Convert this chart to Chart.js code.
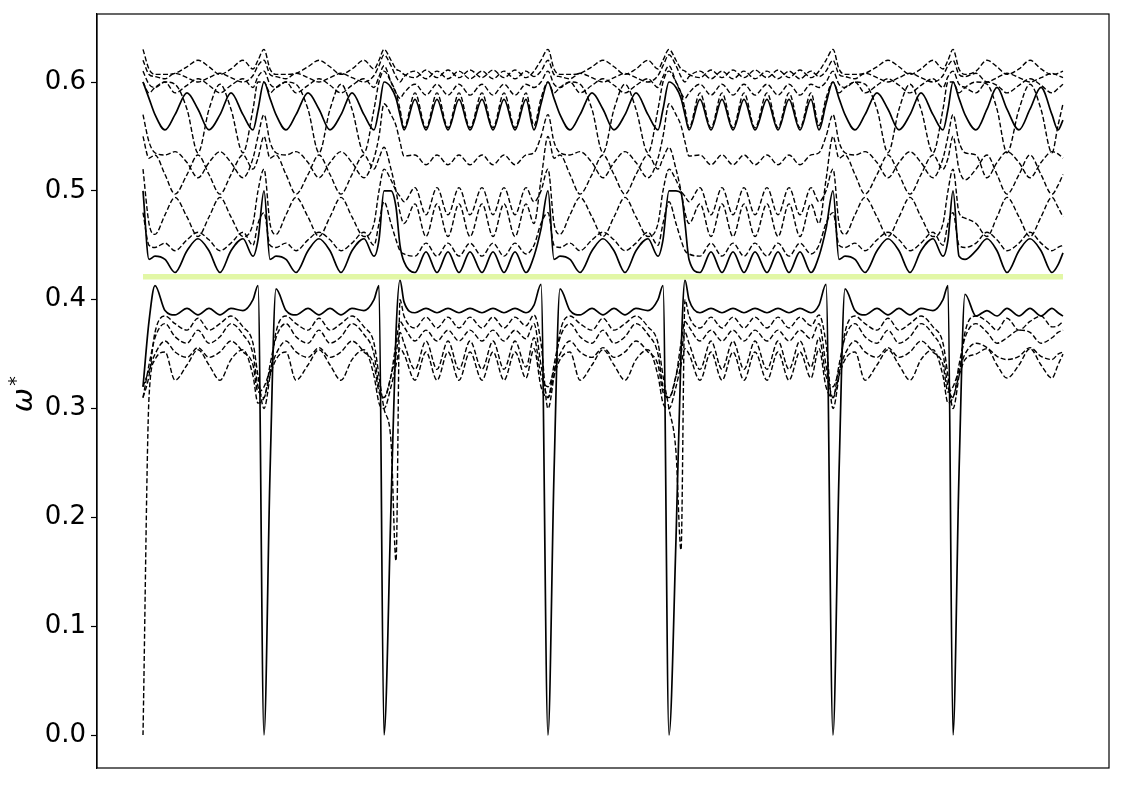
<!DOCTYPE html>
<html><head><meta charset="utf-8">
<script src="https://cdn.jsdelivr.net/npm/chart.js@4.4.1/dist/chart.umd.min.js"></script>
<style>html,body{margin:0;padding:0;background:#fff;}canvas{display:block;}</style>
</head><body>
<canvas id="c" width="1125" height="785"></canvas>
<script>
// k-path coordinate (arbitrary path length units), segments A..G
const kx = [0, 6, 12, 22, 32, 44, 55, 66, 77, 88, 100, 110, 115,
 121, 127, 133, 143, 153, 165, 176, 187, 198, 209, 221, 231, 236,
 241, 248, 253, 257, 261, 272, 283, 294, 305, 316, 327, 339, 350, 361, 372, 383, 391, 398,
 405, 411, 417, 427, 437, 449, 460, 471, 482, 493, 505, 515, 520,
 526, 533, 538, 542, 546, 557, 568, 579, 590, 601, 612, 624, 635, 646, 657, 668, 676, 683,
 690, 696, 702, 712, 722, 734, 745, 756, 767, 778, 790, 800, 805,
 810, 816, 822, 833, 844, 854, 864, 876, 887, 898, 909, 915, 920];

const yTicks = [0.0, 0.1, 0.2, 0.3, 0.4, 0.5, 0.6];
const gapLevel = 0.421;

// lower bands
const bandL1 = [0.32, 0.38, 0.413, 0.39, 0.386, 0.392, 0.386, 0.392, 0.386, 0.392, 0.39, 0.40, 0.413,
 0.00, 0.24, 0.41, 0.39, 0.386, 0.392, 0.386, 0.392, 0.386, 0.392, 0.39, 0.40, 0.413,
 0.00, 0.21, 0.37, 0.418, 0.398, 0.388, 0.392, 0.388, 0.392, 0.388, 0.392, 0.388, 0.392, 0.388, 0.392, 0.388, 0.395, 0.414,
 0.00, 0.24, 0.41, 0.39, 0.386, 0.392, 0.386, 0.392, 0.386, 0.392, 0.39, 0.40, 0.413,
 0.00, 0.18, 0.35, 0.418, 0.40, 0.388, 0.392, 0.388, 0.392, 0.388, 0.392, 0.388, 0.392, 0.388, 0.392, 0.388, 0.395, 0.414,
 0.00, 0.24, 0.41, 0.39, 0.386, 0.392, 0.386, 0.392, 0.386, 0.392, 0.39, 0.40, 0.413,
 0.00, 0.24, 0.405, 0.385, 0.39, 0.385, 0.392, 0.385, 0.392, 0.385, 0.392, 0.388, 0.385];

const bandL2 = [0.31, 0.33, 0.37, 0.385, 0.378, 0.372, 0.383, 0.372, 0.378, 0.385, 0.375, 0.36, 0.33,
 0.30, 0.33, 0.37, 0.385, 0.378, 0.372, 0.383, 0.372, 0.378, 0.385, 0.375, 0.36, 0.33,
 0.30, 0.27, 0.16, 0.40, 0.385, 0.374, 0.384, 0.374, 0.384, 0.374, 0.384, 0.374, 0.384, 0.374, 0.384, 0.376, 0.386, 0.36,
 0.30, 0.33, 0.37, 0.385, 0.378, 0.372, 0.383, 0.372, 0.378, 0.385, 0.375, 0.36, 0.33,
 0.30, 0.26, 0.17, 0.40, 0.385, 0.374, 0.384, 0.374, 0.384, 0.374, 0.384, 0.374, 0.384, 0.374, 0.384, 0.376, 0.386, 0.36,
 0.30, 0.33, 0.37, 0.385, 0.378, 0.372, 0.383, 0.372, 0.378, 0.385, 0.375, 0.36, 0.33,
 0.30, 0.33, 0.37, 0.385, 0.38, 0.372, 0.383, 0.372, 0.38, 0.385, 0.375, 0.376, 0.38];

const bandL3 = [0.31, 0.34, 0.365, 0.378, 0.366, 0.36, 0.372, 0.36, 0.366, 0.378, 0.368, 0.35, 0.32,
 0.31, 0.34, 0.365, 0.378, 0.366, 0.36, 0.372, 0.36, 0.366, 0.378, 0.368, 0.35, 0.32,
 0.31, 0.33, 0.36, 0.38, 0.375, 0.362, 0.372, 0.362, 0.372, 0.362, 0.372, 0.362, 0.372, 0.362, 0.372, 0.364, 0.378, 0.34,
 0.31, 0.34, 0.365, 0.378, 0.366, 0.36, 0.372, 0.36, 0.366, 0.378, 0.368, 0.35, 0.32,
 0.31, 0.33, 0.36, 0.38, 0.375, 0.362, 0.372, 0.362, 0.372, 0.362, 0.372, 0.362, 0.372, 0.362, 0.372, 0.364, 0.378, 0.34,
 0.31, 0.34, 0.365, 0.378, 0.366, 0.36, 0.372, 0.36, 0.366, 0.378, 0.368, 0.35, 0.32,
 0.31, 0.34, 0.365, 0.378, 0.37, 0.36, 0.365, 0.372, 0.37, 0.36, 0.365, 0.37, 0.372];

const bandL4 = [0.32, 0.335, 0.35, 0.362, 0.352, 0.347, 0.356, 0.347, 0.352, 0.362, 0.352, 0.34, 0.315,
 0.32, 0.335, 0.35, 0.362, 0.352, 0.347, 0.356, 0.347, 0.352, 0.362, 0.352, 0.34, 0.315,
 0.31, 0.33, 0.35, 0.37, 0.36, 0.336, 0.362, 0.336, 0.362, 0.336, 0.362, 0.336, 0.362, 0.336, 0.362, 0.338, 0.365, 0.33,
 0.32, 0.335, 0.35, 0.362, 0.352, 0.347, 0.356, 0.347, 0.352, 0.362, 0.352, 0.34, 0.315,
 0.31, 0.33, 0.35, 0.37, 0.36, 0.336, 0.362, 0.336, 0.362, 0.336, 0.362, 0.336, 0.362, 0.336, 0.362, 0.338, 0.365, 0.33,
 0.32, 0.335, 0.35, 0.362, 0.352, 0.347, 0.356, 0.347, 0.352, 0.362, 0.352, 0.34, 0.315,
 0.32, 0.335, 0.35, 0.36, 0.356, 0.348, 0.345, 0.348, 0.356, 0.348, 0.345, 0.35, 0.352];

const bandL5 = [0.00, 0.31, 0.345, 0.352, 0.326, 0.34, 0.354, 0.34, 0.326, 0.345, 0.354, 0.33, 0.305,
 0.31, 0.33, 0.345, 0.352, 0.326, 0.34, 0.354, 0.34, 0.326, 0.345, 0.354, 0.33, 0.305,
 0.30, 0.32, 0.34, 0.355, 0.35, 0.326, 0.352, 0.326, 0.352, 0.326, 0.352, 0.326, 0.352, 0.326, 0.352, 0.328, 0.355, 0.32,
 0.31, 0.33, 0.345, 0.352, 0.326, 0.34, 0.354, 0.34, 0.326, 0.345, 0.354, 0.33, 0.305,
 0.30, 0.32, 0.34, 0.355, 0.35, 0.326, 0.352, 0.326, 0.352, 0.326, 0.352, 0.326, 0.352, 0.326, 0.352, 0.328, 0.355, 0.32,
 0.31, 0.33, 0.345, 0.352, 0.326, 0.34, 0.354, 0.34, 0.326, 0.345, 0.354, 0.33, 0.305,
 0.31, 0.33, 0.345, 0.35, 0.355, 0.34, 0.328, 0.34, 0.355, 0.34, 0.328, 0.34, 0.35];

// upper bands
const bandU1 = [0.500, 0.437, 0.440, 0.437, 0.425, 0.445, 0.456, 0.445, 0.425, 0.445, 0.456, 0.440, 0.455,
 0.500, 0.437, 0.440, 0.437, 0.425, 0.445, 0.456, 0.445, 0.425, 0.445, 0.456, 0.440, 0.455,
 0.500, 0.500, 0.485, 0.450, 0.435, 0.425, 0.444, 0.425, 0.444, 0.425, 0.444, 0.425, 0.444, 0.425, 0.444, 0.425, 0.440, 0.465,
 0.500, 0.437, 0.440, 0.437, 0.425, 0.445, 0.456, 0.445, 0.425, 0.445, 0.456, 0.440, 0.455,
 0.500, 0.500, 0.498, 0.470, 0.437, 0.425, 0.444, 0.425, 0.444, 0.425, 0.444, 0.425, 0.444, 0.425, 0.444, 0.425, 0.440, 0.465,
 0.500, 0.437, 0.440, 0.437, 0.425, 0.445, 0.456, 0.445, 0.425, 0.445, 0.456, 0.440, 0.455,
 0.500, 0.440, 0.437, 0.445, 0.456, 0.445, 0.425, 0.445, 0.456, 0.445, 0.425, 0.432, 0.443];

const bandU2 = [0.480, 0.450, 0.448, 0.452, 0.445, 0.455, 0.462, 0.455, 0.445, 0.452, 0.462, 0.450, 0.470,
 0.480, 0.450, 0.448, 0.452, 0.445, 0.455, 0.462, 0.455, 0.445, 0.452, 0.462, 0.450, 0.470,
 0.490, 0.470, 0.455, 0.445, 0.442, 0.440, 0.452, 0.440, 0.452, 0.440, 0.452, 0.440, 0.452, 0.440, 0.452, 0.442, 0.450, 0.470,
 0.480, 0.450, 0.448, 0.452, 0.445, 0.455, 0.462, 0.455, 0.445, 0.452, 0.462, 0.450, 0.470,
 0.490, 0.470, 0.455, 0.445, 0.442, 0.440, 0.452, 0.440, 0.452, 0.440, 0.452, 0.440, 0.452, 0.440, 0.452, 0.442, 0.450, 0.470,
 0.480, 0.450, 0.448, 0.452, 0.445, 0.455, 0.462, 0.455, 0.445, 0.452, 0.462, 0.450, 0.470,
 0.480, 0.450, 0.448, 0.452, 0.462, 0.455, 0.445, 0.452, 0.462, 0.452, 0.445, 0.448, 0.450];

const bandU3 = [0.520, 0.470, 0.460, 0.478, 0.494, 0.476, 0.458, 0.476, 0.494, 0.476, 0.458, 0.470, 0.500,
 0.520, 0.470, 0.460, 0.478, 0.494, 0.476, 0.458, 0.476, 0.494, 0.476, 0.458, 0.470, 0.500,
 0.520, 0.510, 0.500, 0.495, 0.490, 0.503, 0.478, 0.503, 0.478, 0.503, 0.478, 0.503, 0.478, 0.503, 0.478, 0.503, 0.490, 0.500,
 0.520, 0.470, 0.460, 0.478, 0.494, 0.476, 0.458, 0.476, 0.494, 0.476, 0.458, 0.470, 0.500,
 0.520, 0.510, 0.500, 0.495, 0.490, 0.503, 0.478, 0.503, 0.478, 0.503, 0.478, 0.503, 0.478, 0.503, 0.478, 0.503, 0.490, 0.500,
 0.520, 0.470, 0.460, 0.478, 0.494, 0.476, 0.458, 0.476, 0.494, 0.476, 0.458, 0.470, 0.500,
 0.520, 0.480, 0.475, 0.470, 0.458, 0.476, 0.494, 0.476, 0.458, 0.476, 0.494, 0.485, 0.476];

const bandU4 = [0.550, 0.530, 0.533, 0.515, 0.497, 0.515, 0.533, 0.515, 0.497, 0.515, 0.533, 0.520, 0.530,
 0.550, 0.530, 0.533, 0.515, 0.497, 0.515, 0.533, 0.515, 0.497, 0.515, 0.533, 0.520, 0.530,
 0.540, 0.520, 0.500, 0.480, 0.470, 0.488, 0.458, 0.488, 0.458, 0.488, 0.458, 0.488, 0.458, 0.488, 0.458, 0.488, 0.470, 0.510,
 0.550, 0.530, 0.533, 0.515, 0.497, 0.515, 0.533, 0.515, 0.497, 0.515, 0.533, 0.520, 0.530,
 0.540, 0.520, 0.500, 0.480, 0.470, 0.488, 0.458, 0.488, 0.458, 0.488, 0.458, 0.488, 0.458, 0.488, 0.458, 0.488, 0.470, 0.510,
 0.550, 0.530, 0.533, 0.515, 0.497, 0.515, 0.533, 0.515, 0.497, 0.515, 0.533, 0.520, 0.530,
 0.550, 0.520, 0.510, 0.520, 0.533, 0.515, 0.497, 0.515, 0.533, 0.515, 0.497, 0.505, 0.515];

const bandU5 = [0.570, 0.545, 0.535, 0.533, 0.536, 0.526, 0.512, 0.526, 0.536, 0.526, 0.512, 0.530, 0.550,
 0.570, 0.545, 0.535, 0.533, 0.536, 0.526, 0.512, 0.526, 0.536, 0.526, 0.512, 0.530, 0.550,
 0.580, 0.570, 0.560, 0.545, 0.532, 0.533, 0.524, 0.533, 0.524, 0.533, 0.524, 0.533, 0.524, 0.533, 0.524, 0.533, 0.535, 0.550,
 0.570, 0.545, 0.535, 0.533, 0.536, 0.526, 0.512, 0.526, 0.536, 0.526, 0.512, 0.530, 0.550,
 0.580, 0.570, 0.560, 0.545, 0.532, 0.533, 0.524, 0.533, 0.524, 0.533, 0.524, 0.533, 0.524, 0.533, 0.524, 0.533, 0.535, 0.550,
 0.570, 0.545, 0.535, 0.533, 0.536, 0.526, 0.512, 0.526, 0.536, 0.526, 0.512, 0.530, 0.550,
 0.570, 0.545, 0.535, 0.533, 0.512, 0.526, 0.536, 0.526, 0.512, 0.526, 0.536, 0.534, 0.530];

const bandU6 = [0.600, 0.585, 0.570, 0.556, 0.570, 0.590, 0.575, 0.556, 0.570, 0.590, 0.570, 0.556, 0.575,
 0.600, 0.585, 0.570, 0.556, 0.570, 0.590, 0.575, 0.556, 0.570, 0.590, 0.570, 0.556, 0.575,
 0.600, 0.595, 0.585, 0.570, 0.556, 0.584, 0.556, 0.584, 0.556, 0.584, 0.556, 0.584, 0.556, 0.584, 0.556, 0.584, 0.556, 0.580,
 0.600, 0.585, 0.570, 0.556, 0.570, 0.590, 0.575, 0.556, 0.570, 0.590, 0.570, 0.556, 0.575,
 0.600, 0.595, 0.585, 0.570, 0.556, 0.584, 0.556, 0.584, 0.556, 0.584, 0.556, 0.584, 0.556, 0.584, 0.556, 0.584, 0.556, 0.580,
 0.600, 0.585, 0.570, 0.556, 0.570, 0.590, 0.575, 0.556, 0.570, 0.590, 0.570, 0.556, 0.575,
 0.600, 0.585, 0.570, 0.556, 0.575, 0.595, 0.575, 0.556, 0.575, 0.595, 0.570, 0.556, 0.565];

const bandU6b = [0.600, 0.590, 0.595, 0.600, 0.598, 0.575, 0.535, 0.575, 0.598, 0.575, 0.535, 0.575, 0.600,
 0.600, 0.590, 0.595, 0.600, 0.598, 0.575, 0.535, 0.575, 0.598, 0.575, 0.535, 0.575, 0.600,
 0.610, 0.600, 0.590, 0.575, 0.558, 0.590, 0.558, 0.590, 0.558, 0.590, 0.558, 0.590, 0.558, 0.590, 0.558, 0.590, 0.560, 0.585,
 0.600, 0.590, 0.595, 0.600, 0.598, 0.575, 0.535, 0.575, 0.598, 0.575, 0.535, 0.575, 0.600,
 0.610, 0.600, 0.590, 0.575, 0.558, 0.590, 0.558, 0.590, 0.558, 0.590, 0.558, 0.590, 0.558, 0.590, 0.558, 0.590, 0.560, 0.585,
 0.600, 0.590, 0.595, 0.600, 0.598, 0.575, 0.535, 0.575, 0.598, 0.575, 0.535, 0.575, 0.600,
 0.600, 0.590, 0.595, 0.600, 0.598, 0.575, 0.535, 0.575, 0.598, 0.575, 0.535, 0.560, 0.580];

const bandU7 = [0.610, 0.598, 0.595, 0.600, 0.590, 0.597, 0.603, 0.597, 0.590, 0.597, 0.603, 0.595, 0.605,
 0.610, 0.598, 0.595, 0.600, 0.590, 0.597, 0.603, 0.597, 0.590, 0.597, 0.603, 0.595, 0.605,
 0.615, 0.600, 0.590, 0.585, 0.590, 0.598, 0.588, 0.598, 0.588, 0.598, 0.588, 0.598, 0.588, 0.598, 0.588, 0.598, 0.595, 0.600,
 0.610, 0.598, 0.595, 0.600, 0.590, 0.597, 0.603, 0.597, 0.590, 0.597, 0.603, 0.595, 0.605,
 0.615, 0.600, 0.590, 0.585, 0.590, 0.598, 0.588, 0.598, 0.588, 0.598, 0.588, 0.598, 0.588, 0.598, 0.588, 0.598, 0.595, 0.600,
 0.610, 0.598, 0.595, 0.600, 0.590, 0.597, 0.603, 0.597, 0.590, 0.597, 0.603, 0.595, 0.605,
 0.610, 0.598, 0.595, 0.590, 0.600, 0.597, 0.590, 0.597, 0.603, 0.597, 0.590, 0.594, 0.598];

const bandU8 = [0.620, 0.607, 0.605, 0.603, 0.608, 0.604, 0.600, 0.604, 0.608, 0.604, 0.600, 0.606, 0.615,
 0.620, 0.607, 0.605, 0.603, 0.608, 0.604, 0.600, 0.604, 0.608, 0.604, 0.600, 0.606, 0.615,
 0.625, 0.615, 0.605, 0.600, 0.605, 0.610, 0.603, 0.610, 0.603, 0.610, 0.603, 0.610, 0.603, 0.610, 0.603, 0.610, 0.605, 0.610,
 0.620, 0.607, 0.605, 0.603, 0.608, 0.604, 0.600, 0.604, 0.608, 0.604, 0.600, 0.606, 0.615,
 0.625, 0.615, 0.605, 0.600, 0.605, 0.610, 0.603, 0.610, 0.603, 0.610, 0.603, 0.610, 0.603, 0.610, 0.603, 0.610, 0.605, 0.610,
 0.620, 0.607, 0.605, 0.603, 0.608, 0.604, 0.600, 0.604, 0.608, 0.604, 0.600, 0.606, 0.615,
 0.620, 0.607, 0.605, 0.608, 0.600, 0.604, 0.608, 0.604, 0.600, 0.604, 0.608, 0.606, 0.604];

const bandU9 = [0.630, 0.612, 0.607, 0.607, 0.608, 0.614, 0.620, 0.614, 0.607, 0.612, 0.620, 0.612, 0.620,
 0.630, 0.612, 0.607, 0.607, 0.608, 0.614, 0.620, 0.614, 0.607, 0.612, 0.620, 0.612, 0.620,
 0.630, 0.620, 0.612, 0.610, 0.607, 0.604, 0.611, 0.604, 0.611, 0.604, 0.611, 0.604, 0.611, 0.604, 0.611, 0.604, 0.610, 0.620,
 0.630, 0.612, 0.607, 0.607, 0.608, 0.614, 0.620, 0.614, 0.607, 0.612, 0.620, 0.612, 0.620,
 0.630, 0.620, 0.612, 0.610, 0.607, 0.604, 0.611, 0.604, 0.611, 0.604, 0.611, 0.604, 0.611, 0.604, 0.611, 0.604, 0.610, 0.620,
 0.630, 0.612, 0.607, 0.607, 0.608, 0.614, 0.620, 0.614, 0.607, 0.612, 0.620, 0.612, 0.620,
 0.630, 0.612, 0.607, 0.610, 0.620, 0.614, 0.607, 0.612, 0.620, 0.612, 0.607, 0.608, 0.610];

const solidBands = [bandL1, bandU1, bandU6];
const dashedBands = [bandL2, bandL3, bandL4, bandL5, bandU2, bandU3, bandU4, bandU5, bandU6b, bandU7, bandU8, bandU9];

function toPts(ys) { return ys.map((y, i) => ({ x: kx[i], y: y })); }

const datasets = [];
datasets.push({
  data: [{ x: kx[0], y: gapLevel }, { x: kx[kx.length - 1], y: gapLevel }],
  borderColor: '#e2f7a6', borderWidth: 5.5, cubicInterpolationMode: 'default', tension: 0
});
solidBands.forEach(b => datasets.push({ data: toPts(b), borderColor: '#000', borderWidth: 1.7 }));
dashedBands.forEach(b => datasets.push({ data: toPts(b), borderColor: '#000', borderWidth: 1.4, borderDash: [5, 2.4] }));

const frame = {
  id: 'frame',
  afterDraw(chart) {
    const { ctx, chartArea: a } = chart;
    ctx.save();
    ctx.strokeStyle = '#000';
    ctx.lineWidth = 1.2;
    ctx.strokeRect(a.left, a.top, a.right - a.left, a.bottom - a.top);
    // y label: omega with superscript asterisk
    ctx.translate(24, 391);
    ctx.rotate(-Math.PI / 2);
    ctx.fillStyle = '#000';
    ctx.textAlign = 'center';
    ctx.textBaseline = 'alphabetic';
    ctx.font = 'italic 29px "DejaVu Sans"';
    ctx.fillText('ω', -9, 8);
    ctx.font = '19px "DejaVu Sans"';
    ctx.fillText('*', 10, -2);
    ctx.restore();
  }
};

new Chart(document.getElementById('c'), {
  type: 'line',
  data: { datasets },
  options: {
    responsive: false,
    animation: false,
    devicePixelRatio: 1,
    layout: { padding: { left: 0, top: 14, right: 16, bottom: 17 } },
    plugins: { legend: { display: false }, tooltip: { enabled: false } },
    elements: {
      point: { radius: 0 },
      line: { cubicInterpolationMode: 'monotone', borderCapStyle: 'butt', fill: false }
    },
    scales: {
      x: { type: 'linear', min: -46, max: 966, display: false },
      y: {
        type: 'linear', min: -0.0303, max: 0.6625,
        afterBuildTicks: s => { s.ticks = yTicks.map(v => ({ value: v })); },
        afterFit: s => { s.width = 97; s.paddingTop = 0; s.paddingBottom = 0; },
        ticks: { color: '#000', font: { family: 'DejaVu Sans', size: 26 }, padding: 5,
                 callback: v => Number(v).toFixed(1) },
        grid: { drawOnChartArea: false, drawTicks: true, tickLength: 6, color: '#000', tickWidth: 1.2 },
        border: { display: true, color: '#000', width: 1.2 }
      }
    }
  },
  plugins: [frame]
});
</script>
</body></html>
